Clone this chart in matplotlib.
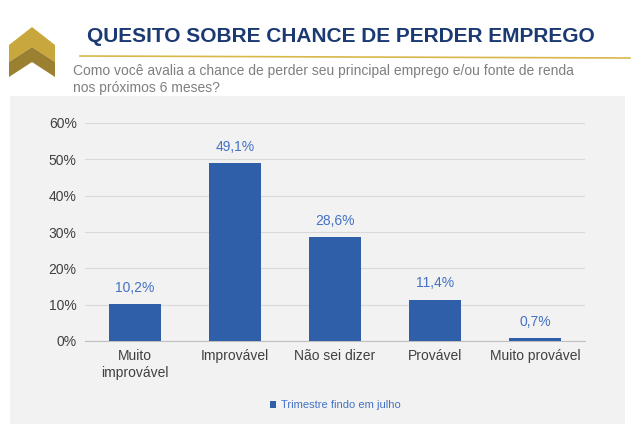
import matplotlib.pyplot as plt
from matplotlib.patches import Polygon, Rectangle
from matplotlib.lines import Line2D

plt.rcParams["font.family"] = ["Liberation Sans", "DejaVu Sans"]

W, H = 636, 446
categorias = ["Muito\nimprovável", "Improvável", "Não sei dizer", "Provável", "Muito provável"]
valores = [10.2, 49.1, 28.6, 11.4, 0.7]
azul = "#2e5fa8"

fig = plt.figure(figsize=(W / 100, H / 100), dpi=100)


def fx(x):
    return x / W


def fy(y):
    return 1 - y / H


# painel cinza
fig.patches.append(Rectangle((fx(10), fy(424)), fx(615), 328 / H, transform=fig.transFigure,
                             facecolor="#f2f2f2", edgecolor="none", zorder=-5))

# logo (chevron dourado)
ouro_claro, ouro_escuro = "#c8a83c", "#9a8030"
pts1 = [(9, 45), (32, 27), (55, 45), (55, 62), (32, 47), (9, 62)]
pts2 = [(9, 62), (32, 47), (55, 62), (55, 77), (32, 62), (9, 77)]
for pts, c in [(pts1, ouro_claro), (pts2, ouro_escuro)]:
    fig.patches.append(Polygon([(fx(a), fy(b)) for a, b in pts], closed=True,
                               transform=fig.transFigure, facecolor=c, edgecolor="none"))

fig.lines.append(Line2D([fx(80), fx(630)], [fy(56), fy(58)], transform=fig.transFigure,
                        color="#d9b84a", lw=1.2))

fig.text(fx(87), fy(36), "QUESITO SOBRE CHANCE DE PERDER EMPREGO", fontsize=15,
         fontweight="bold", color="#1b3a73", va="center")
fig.text(fx(73), fy(71), "Como você avalia a chance de perder seu principal emprego e/ou fonte de renda",
         fontsize=10, color="#7f7f7f", va="center")
fig.text(fx(73), fy(88), "nos próximos 6 meses?", fontsize=10, color="#7f7f7f", va="center")

ax = fig.add_axes([fx(85), fy(341), fx(500), (341 - 123) / H])
ax.set_zorder(5)
ax.set_facecolor("none")
x = range(len(valores))
ax.bar(x, valores, width=0.52, color=azul, label="Trimestre findo em julho", zorder=3)
for i, v in enumerate(valores):
    ax.text(i, v + 2.5, f"{v:.1f}%".replace(".", ","), ha="center", va="bottom",
            fontsize=10, color="#4472c4")
ax.set_ylim(0, 60)
ax.set_xlim(-0.5, 4.5)
ax.set_yticks(range(0, 61, 10))
ax.set_yticklabels([f"{t}%" for t in range(0, 61, 10)], fontsize=10, color="#404040")
ax.set_xticks(list(x))
ax.set_xticklabels(categorias, fontsize=10, color="#404040", va="top")
ax.tick_params(length=0, pad=6)
ax.grid(axis="y", color="#d9d9d9", lw=0.8, zorder=0)
for s in ["top", "right", "left"]:
    ax.spines[s].set_visible(False)
ax.spines["bottom"].set_color("#bfbfbf")
ax.legend(loc="center", bbox_to_anchor=(0.5, (341 - 405) / (341 - 123)), frameon=False,
          fontsize=8, labelcolor="#4472c4", handlelength=0.6, handleheight=0.6, handletextpad=0.4)

fig.savefig("out.png", dpi=100, facecolor="white")
